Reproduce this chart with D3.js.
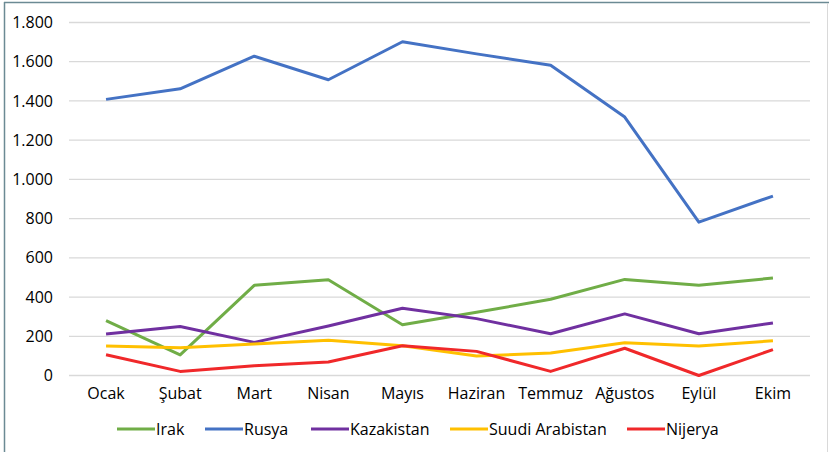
<!DOCTYPE html>
<html><head><meta charset="utf-8">
<script src="https://cdn.jsdelivr.net/npm/d3@7"></script>
<style>
html,body{margin:0;padding:0;background:#fff;}
svg{display:block;font-family:"Open Sans","Noto Sans",sans-serif;}
</style></head>
<body><svg id="c" width="829" height="452"></svg>
<script>
const months = ["Ocak","Şubat","Mart","Nisan","Mayıs","Haziran","Temmuz","Ağustos","Eylül","Ekim"];
const irak = [280,105,460,488,259,322,389,490,460,497];
const rusya = [1408,1462,1628,1508,1702,1640,1582,1318,782,915];
const kazakistan = [212,250,169,252,343,290,213,314,213,268];
const suudi = [150,142,160,180,152,99,115,167,150,177];
const nijerya = [106,21,50,69,152,123,21,139,0,132];
const seriesNames = ["Irak","Rusya","Kazakistan","Suudi Arabistan","Nijerya"];
const seriesColors = ["#70ad47","#4472c4","#7030a0","#ffc000","#f0282a"];
const yTicks = [0,200,400,600,800,1000,1200,1400,1600,1800];

const series = [irak,rusya,kazakistan,suudi,nijerya].map((v,i)=>({name:seriesNames[i],color:seriesColors[i],values:v}));

const svg = d3.select("#c");
// frame
svg.append("line").attr("x1",4.5).attr("x2",4.5).attr("y1",2).attr("y2",452).attr("stroke","#6b8a94").attr("stroke-width",1.5);
svg.append("line").attr("x1",4).attr("x2",829).attr("y1",2.5).attr("y2",2.5).attr("stroke","#6b8a94").attr("stroke-width",1.5);
svg.append("line").attr("x1",827.5).attr("x2",827.5).attr("y1",3).attr("y2",452).attr("stroke","#d9d9d9").attr("stroke-width",1);

const x = d3.scaleBand().domain(months).range([69,810]);
const y = d3.scaleLinear().domain([0,1800]).range([375.5,22.5]);
const fmt = d => d3.format(",")(d).replace(/,/g,".");

// grid
svg.append("g").selectAll("line").data(yTicks).join("line")
  .attr("x1",69).attr("x2",810).attr("y1",d=>y(d)).attr("y2",d=>y(d))
  .attr("stroke","#d9d9d9").attr("stroke-width",1.3);

// y axis labels
const yAxis = svg.append("g").attr("transform","translate(53,0)")
  .call(d3.axisLeft(y).tickValues(yTicks).tickFormat(fmt).tickSize(0).tickPadding(0));
yAxis.select(".domain").remove();
yAxis.selectAll("text").attr("font-size","16px").attr("fill","#000").attr("font-family","'Open Sans',sans-serif");

// x axis labels
const xAxis = svg.append("g").attr("transform","translate(0,388)")
  .call(d3.axisBottom(x).tickSize(0).tickPadding(0));
xAxis.select(".domain").remove();
xAxis.selectAll("text").attr("font-size","16px").attr("fill","#000").attr("dy","0.71em").attr("font-family","'Open Sans',sans-serif");

// lines
const line = d3.line().x((d,i)=>x(months[i])+x.bandwidth()/2).y(d=>y(d));
svg.append("g").selectAll("path").data(series).join("path")
  .attr("d",d=>line(d.values)).attr("fill","none")
  .attr("stroke",d=>d.color).attr("stroke-width",3).attr("stroke-linejoin","round").attr("stroke-linecap","butt");

// legend
const legX = [117,205,311,450,627];
const lg = svg.append("g").selectAll("g").data(series).join("g")
  .attr("transform",(d,i)=>`translate(${legX[i]},429)`);
lg.append("line").attr("x1",0).attr("x2",38).attr("stroke",d=>d.color).attr("stroke-width",3);
lg.append("text").attr("x",39).attr("dy","0.35em").attr("font-size","16px").attr("fill","#000").text(d=>d.name);
</script></body></html>
